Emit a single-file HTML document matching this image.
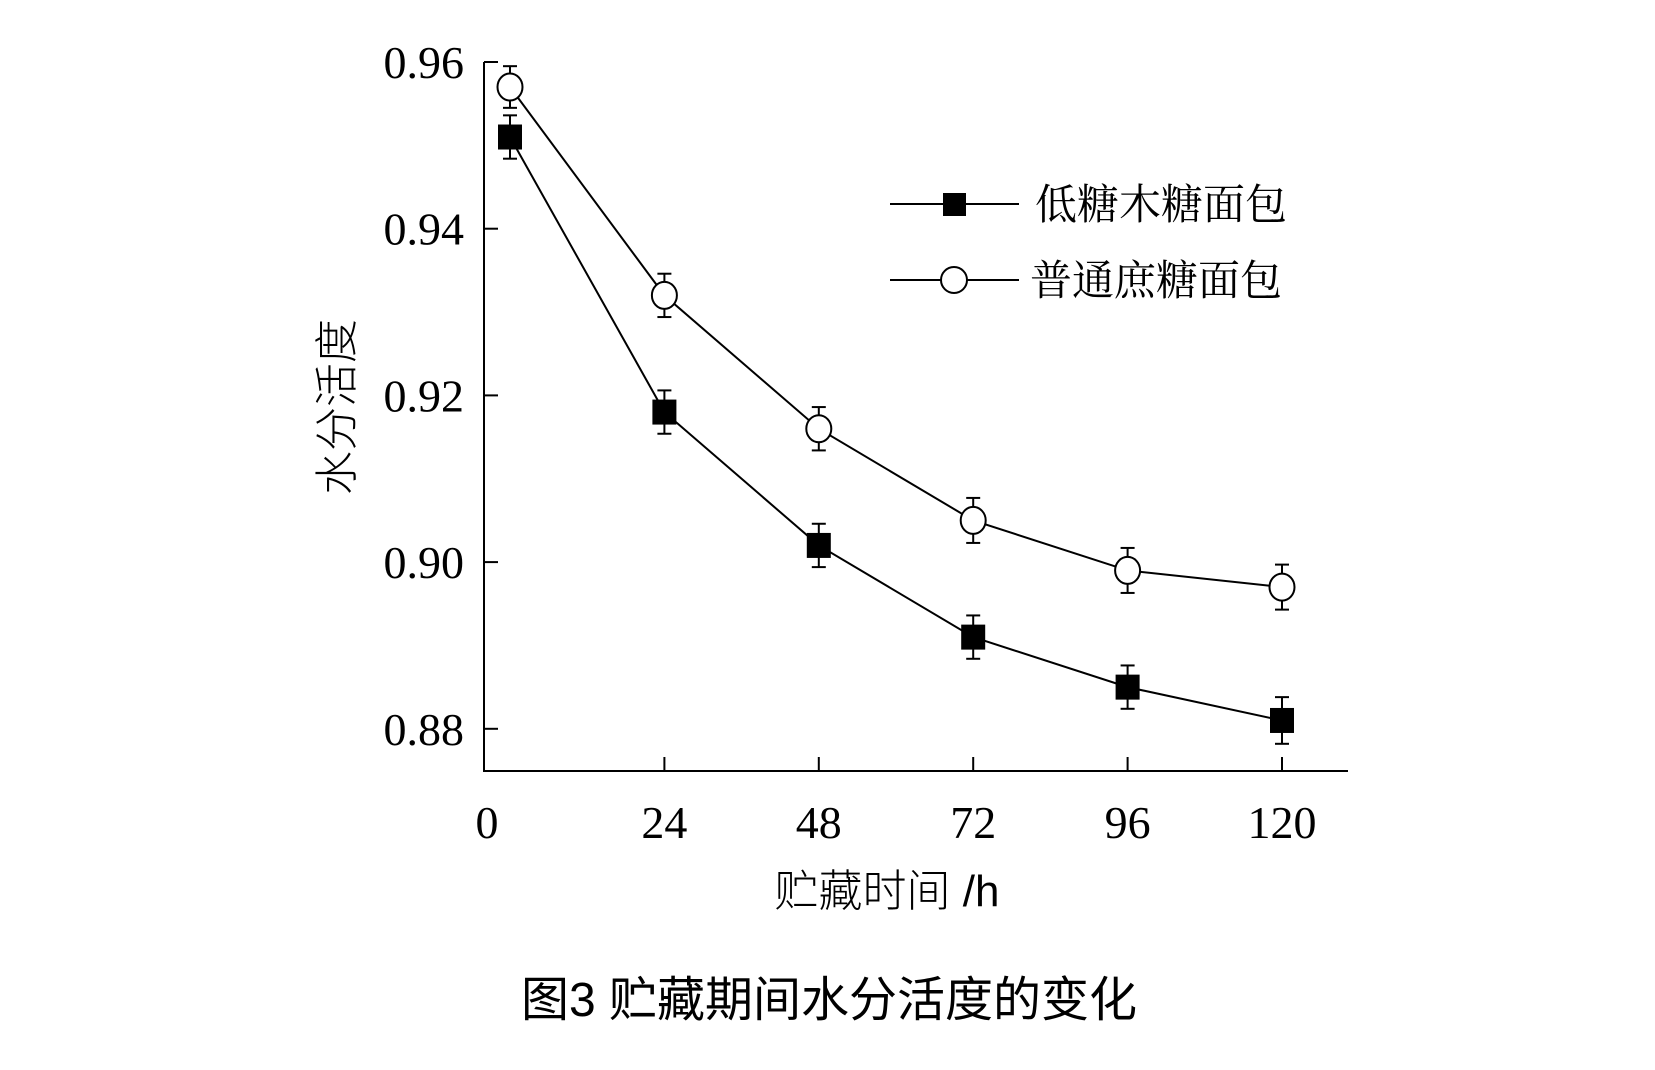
<!DOCTYPE html>
<html><head><meta charset="utf-8"><style>
html,body{margin:0;padding:0;background:#fff;}
svg{display:block;}
</style></head><body>
<svg id="chart" width="1655" height="1070" viewBox="0 0 1655 1070" xmlns="http://www.w3.org/2000/svg">
<g id="axes"></g>
<g id="series"></g>
<g>
  <line x1="890" y1="204" x2="1019" y2="204" stroke="#000" stroke-width="2"/>
  <rect x="943" y="193" width="23" height="23" fill="#000"/>
  <text x="1035" y="219" font-family="'Liberation Serif','Noto Serif CJK SC',serif" font-size="42">低糖木糖面包</text>
  <line x1="890" y1="280" x2="1019" y2="280" stroke="#000" stroke-width="2"/>
  <ellipse cx="954" cy="280" rx="13" ry="13" fill="#fff" stroke="#000" stroke-width="2"/>
  <text x="1030" y="295" font-family="'Liberation Serif','Noto Serif CJK SC',serif" font-size="42">普通庶糖面包</text>
</g>
<text transform="translate(352,407) rotate(-90)" text-anchor="middle" font-family="'Liberation Sans','Noto Sans CJK SC',sans-serif" font-size="44" font-weight="300">水分活度</text>
<text x="887" y="906" text-anchor="middle" font-family="'Liberation Sans','Noto Sans CJK SC',sans-serif" font-size="44" font-weight="300">贮藏时间 /h</text>
<text x="829" y="1016" text-anchor="middle" font-family="'Liberation Sans','Noto Sans CJK SC',sans-serif" font-size="48">图3 贮藏期间水分活度的变化</text>
</svg>
<script>
const categories = [0, 24, 48, 72, 96, 120];
const xTickLabels = ["0", "24", "48", "72", "96", "120"];
const yTicks = [0.96, 0.94, 0.92, 0.90, 0.88];
const yTickLabels = ["0.96", "0.94", "0.92", "0.90", "0.88"];
const xylitolValues = [0.951, 0.918, 0.902, 0.891, 0.885, 0.881];
const xylitolErrors = [0.0026, 0.0026, 0.0026, 0.0026, 0.0026, 0.0028];
const sucroseValues = [0.957, 0.932, 0.916, 0.905, 0.899, 0.897];
const sucroseErrors = [0.0025, 0.0026, 0.0026, 0.0027, 0.0027, 0.0027];
const NS = "http://www.w3.org/2000/svg";
const xScale = v => 510 + (v / 24) * 154.4;
const yScale = v => 62 + (0.96 - v) / 0.02 * 166.7;
function mk(tag, attrs, parent){const e=document.createElementNS(NS,tag);for(const k in attrs)e.setAttribute(k,attrs[k]);parent.appendChild(e);return e;}
const axes=document.getElementById('axes');
const series=document.getElementById('series');
let el=mk('line',{x1:484,y1:62,x2:484,y2:771,stroke:'#000','stroke-width':2},axes);


el=mk('line',{x1:483,y1:771,x2:1348,y2:771,stroke:'#000','stroke-width':2},axes);


yTicks.forEach((v,i)=>{
  const y=yScale(v);
  let t=mk('line',{x1:484,y1:y,x2:498,y2:y,stroke:'#000','stroke-width':2},axes);
  
  
  let tx=mk('text',{x:464,y:y+16,'text-anchor':'end','font-family':"'Liberation Serif',serif",'font-size':46},axes);
  
  
  tx.textContent=yTickLabels[i];
});
categories.forEach((c,i)=>{
  const x=xScale(c);
  if(i>0){
    let t=mk('line',{x1:x,y1:757,x2:x,y2:771,stroke:'#000','stroke-width':2},axes);
    
    
  }
  let tx=mk('text',{x:i===0?487:x,y:838,'text-anchor':'middle','font-family':"'Liberation Serif',serif",'font-size':46},axes);
  
  
  tx.textContent=xTickLabels[i];
});
function drawSeries(vals,errs,kind){
  const pts=categories.map((c,i)=>xScale(c)+','+yScale(vals[i])).join(' ');
  let pl=mk('polyline',{points:pts,fill:'none',stroke:'#000','stroke-width':2},series);
  
  
  categories.forEach((c,i)=>{
    const x=xScale(c),y=yScale(vals[i]),y1=yScale(vals[i]+errs[i]),y2=yScale(vals[i]-errs[i]);
    let g=mk('g',{},series);
    
    
    mk('line',{x1:x,y1:y1,x2:x,y2:y2,stroke:'#000','stroke-width':2},g);
    mk('line',{x1:x-7,y1:y1,x2:x+7,y2:y1,stroke:'#000','stroke-width':2},g);
    mk('line',{x1:x-7,y1:y2,x2:x+7,y2:y2,stroke:'#000','stroke-width':2},g);
    let m;
    if(kind==='xylitol'){
      m=mk('rect',{x:x-12,y:y-12.5,width:24,height:25,fill:'#000'},series);
    }else{
      m=mk('ellipse',{cx:x,cy:y,rx:12.5,ry:13.5,fill:'#fff',stroke:'#000','stroke-width':2},series);
    }
    
    
  });
}
drawSeries(sucroseValues,sucroseErrors,'sucrose');
drawSeries(xylitolValues,xylitolErrors,'xylitol');
</script>
</body></html>
